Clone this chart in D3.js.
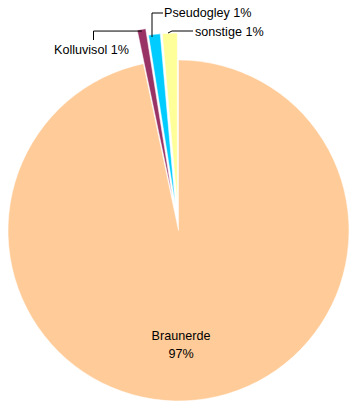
<!DOCTYPE html>
<html>
<head>
<meta charset="utf-8">
<script src="https://cdn.jsdelivr.net/npm/d3@7"></script>
<style>
  body { margin: 0; background: #fff; }
  text { font-family: "Liberation Sans", Arial, sans-serif; font-size: 12.6px; fill: #000; }
</style>
</head>
<body>
<div id="chart"></div>
<script>
// soil types and shares (%)
const categories = ["Braunerde", "Kolluvisol", "Pseudogley", "sonstige"];
const values = [96.7, 0.8, 1.1, 1.4];
const labels = ["Braunerde\n97%", "Kolluvisol 1%", "Pseudogley 1%", "sonstige 1%"];
const colors = ["#FFCC99", "#993366", "#00CCFF", "#FFFF99"];

const width = 354, height = 404;
const cx = 178.5, cy = 230.5, radius = 170.5;
const explode = [0, 34, 27, 27];

const svg = d3.select("#chart").append("svg")
    .attr("width", width)
    .attr("height", height);

const g = svg.append("g").attr("transform", `translate(${cx},${cy})`);

const pie = d3.pie().sort(null).value(d => d.value);
const arc = d3.arc().innerRadius(0).outerRadius(radius);

const data = categories.map((c, i) => ({ name: c, value: values[i], label: labels[i], color: colors[i], ex: explode[i] }));
const arcs = pie(data);

// offset of each exploded slice along its mid angle
function shift(d) {
    const a = (d.startAngle + d.endAngle) / 2;
    return [Math.sin(a) * d.data.ex, -Math.cos(a) * d.data.ex];
}

g.selectAll("path.slice")
    .data(arcs)
    .enter()
    .append("path")
    .attr("class", "slice")
    .attr("d", arc)
    .attr("transform", d => `translate(${shift(d)})`)
    .attr("fill", d => d.data.color)
    .attr("stroke", "#fff")
    .attr("stroke-width", 0.5);

// Braunerde label inside the big slice
const main = g.append("text")
    .attr("text-anchor", "middle")
    .attr("y", 109);
main.append("tspan").attr("x", 2.5).attr("dy", 0).text("Braunerde");
main.append("tspan").attr("x", 2.5).attr("dy", 18).text("97%");

// outer point of a slice (at mid angle, after explode)
function outer(d, f) {
    const a = (d.startAngle + d.endAngle) / 2;
    const s = shift(d);
    return [s[0] + Math.sin(a) * radius * f, s[1] - Math.cos(a) * radius * f];
}

const small = arcs.slice(1);
// leader elbows and label anchors, relative to chart centre
const leaders = [
    { pts: d => { const p = outer(d, 0.99); return [p, [-85, p[1]], [-85, -190.5]]; }, tx: -124.5, ty: -176.5 },
    { pts: d => { const p = outer(d, 0.985); return [[-26.5, p[1]], [-26.5, -217.5], [-15.5, -217.5]]; }, tx: -14.5, ty: -213.5 },
    { pts: d => { const p = outer(d, 0.985); return [[-10.5, -197.5], [-6.5, -199.5], [14.5, -199.5]]; }, tx: 16.5, ty: -194.5 }
];

small.forEach((d, i) => {
    const L = leaders[i];
    g.append("path")
        .attr("d", d3.line()(L.pts(d)))
        .attr("fill", "none")
        .attr("stroke", "#000")
        .attr("stroke-width", 1);
    g.append("text")
        .attr("x", L.tx)
        .attr("y", L.ty)
        .text(d.data.label);
});
</script>
</body>
</html>
